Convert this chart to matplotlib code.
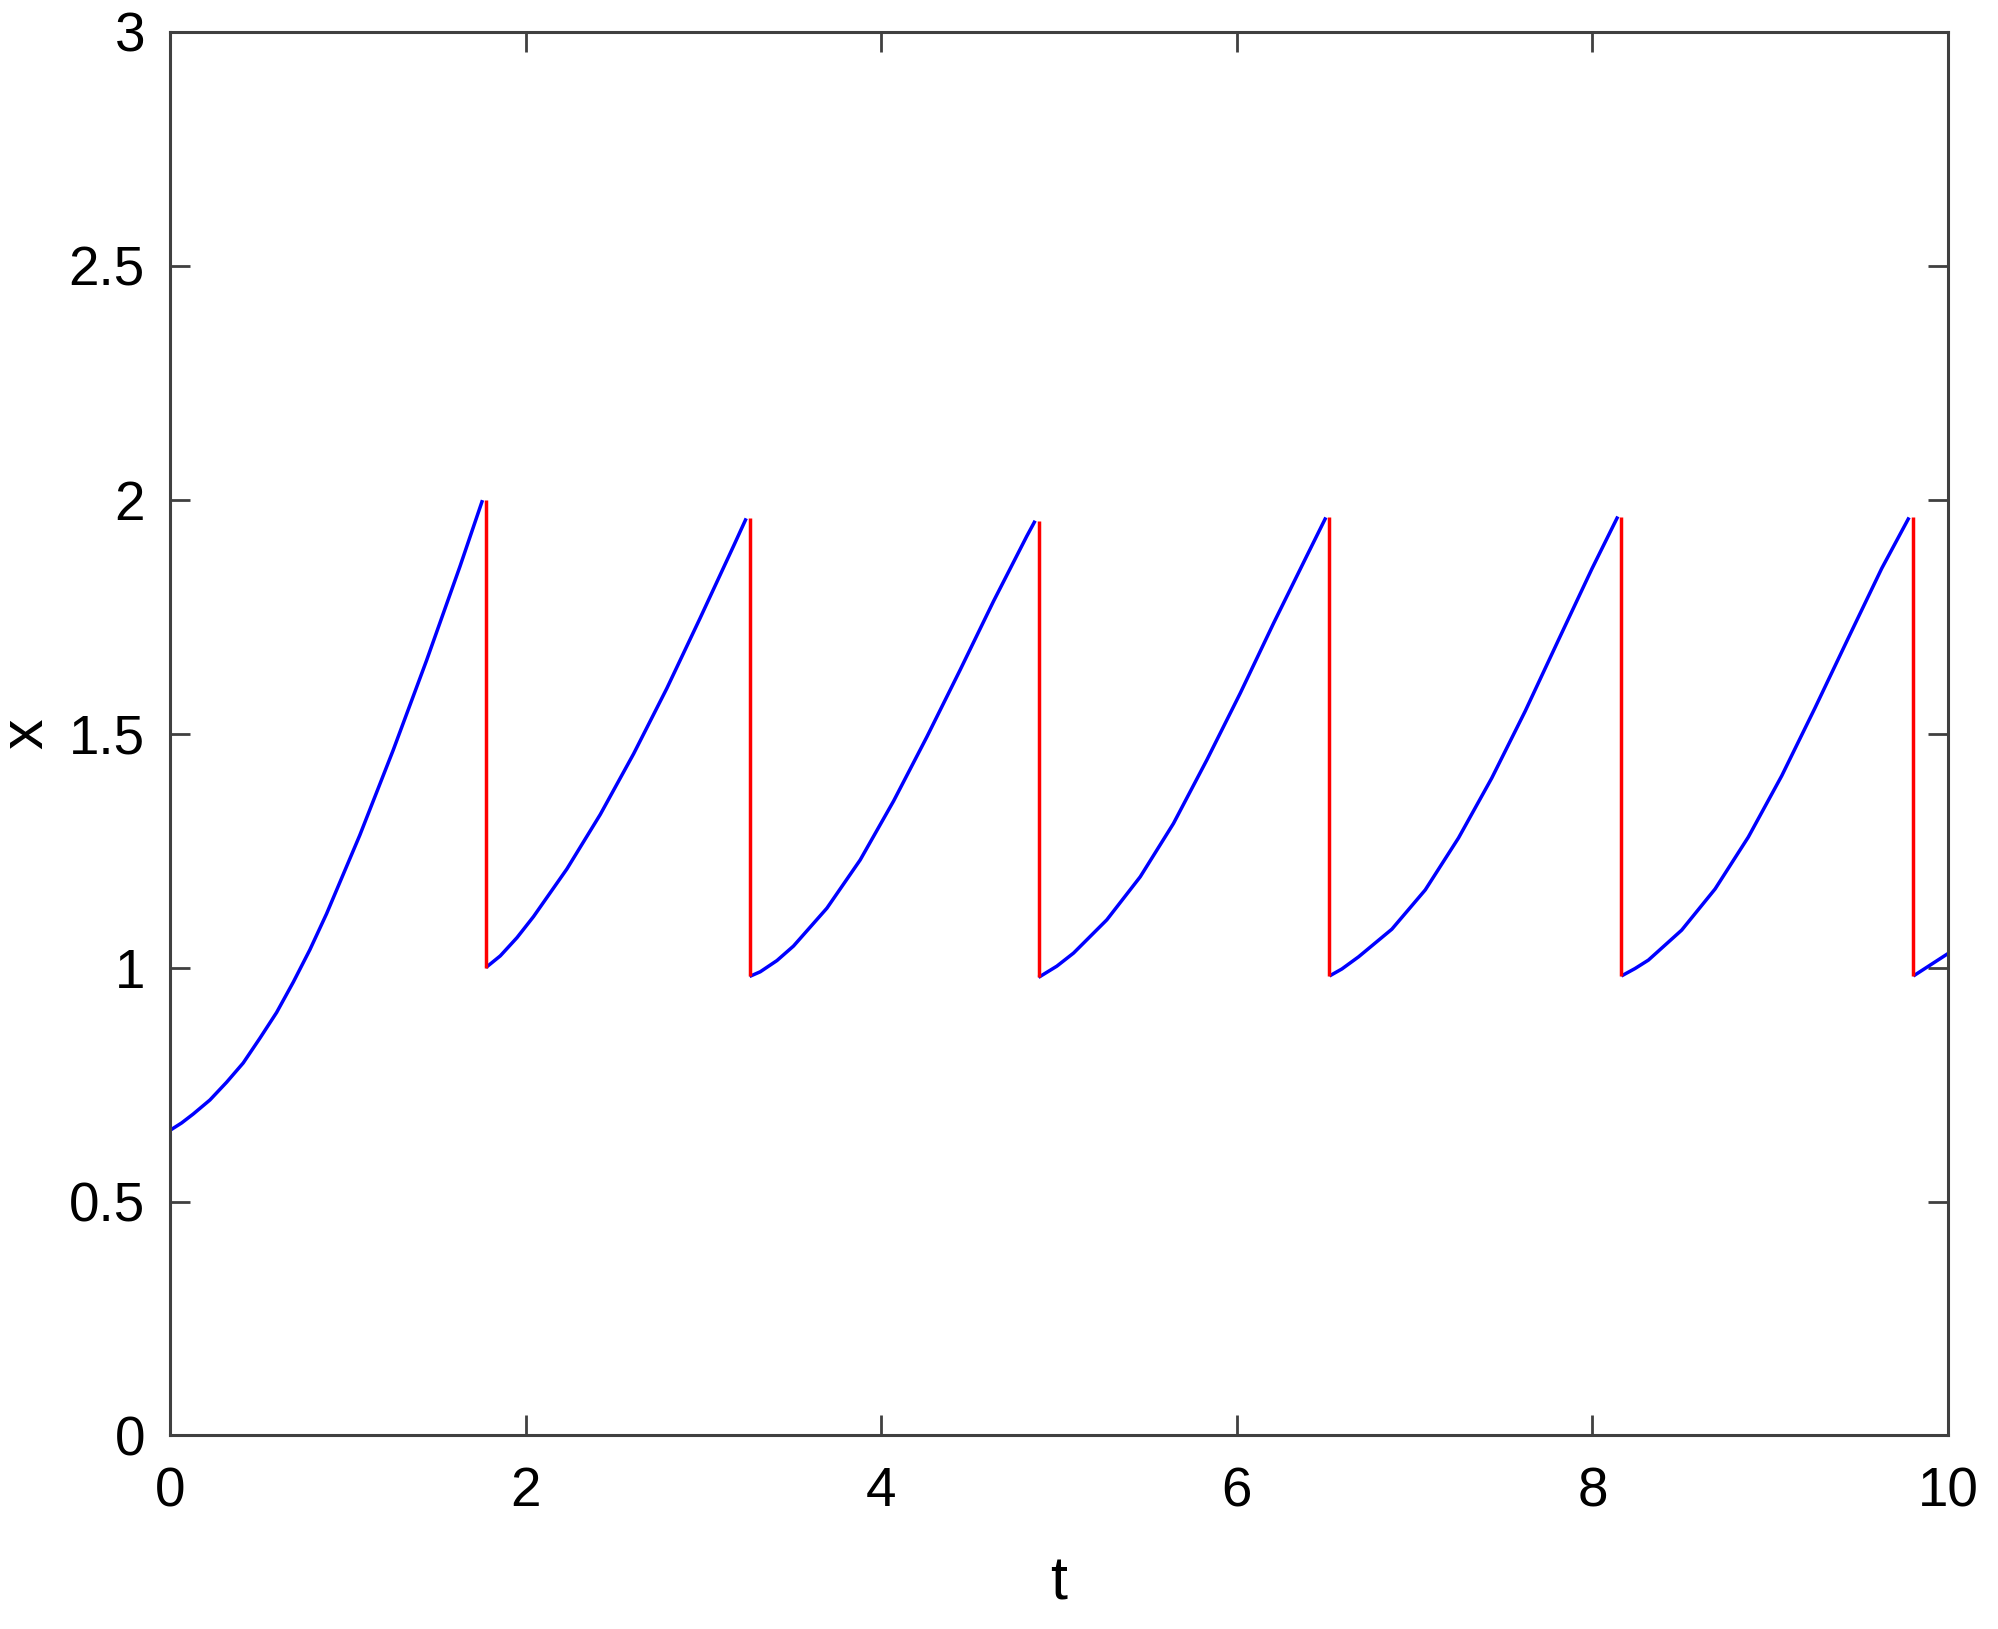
import matplotlib
matplotlib.use("Agg")
import matplotlib.pyplot as plt

plt.rcParams['font.family'] = ['Liberation Sans', 'DejaVu Sans']

# ---- data ----
seg1_t = [0.0, 0.066, 0.131, 0.225, 0.319, 0.412, 0.506, 0.600, 0.694, 0.787, 0.881, 1.068, 1.256, 1.443, 1.631, 1.758]
seg1_x = [0.652, 0.668, 0.687, 0.717, 0.755, 0.796, 0.849, 0.904, 0.969, 1.038, 1.115, 1.283, 1.465, 1.656, 1.857, 1.999]

seg2_t = [1.777, 1.858, 1.952, 2.045, 2.233, 2.420, 2.608, 2.795, 2.982, 3.170, 3.241]
seg2_x = [1.000, 1.025, 1.064, 1.109, 1.211, 1.327, 1.457, 1.597, 1.747, 1.901, 1.960]

seg3_t = [3.260, 3.320, 3.414, 3.507, 3.695, 3.882, 4.070, 4.257, 4.444, 4.632, 4.819, 4.866]
seg3_x = [0.981, 0.991, 1.015, 1.046, 1.127, 1.230, 1.356, 1.493, 1.636, 1.783, 1.922, 1.955]

seg4_t = [4.885, 4.988, 5.082, 5.269, 5.457, 5.644, 5.832, 6.019, 6.207, 6.394, 6.501]
seg4_x = [0.979, 1.003, 1.031, 1.102, 1.194, 1.308, 1.444, 1.586, 1.736, 1.880, 1.962]

seg5_t = [6.521, 6.591, 6.685, 6.872, 7.060, 7.247, 7.434, 7.622, 7.809, 7.997, 8.143]
seg5_x = [0.982, 0.997, 1.023, 1.082, 1.166, 1.277, 1.405, 1.548, 1.700, 1.852, 1.964]

seg6_t = [8.163, 8.240, 8.315, 8.502, 8.690, 8.877, 9.065, 9.252, 9.440, 9.627, 9.781]
seg6_x = [0.982, 0.998, 1.016, 1.080, 1.168, 1.279, 1.410, 1.555, 1.705, 1.853, 1.962]

seg7_t = [9.805, 10.0]
seg7_x = [0.982, 1.030]

jump_t = [1.777, 3.260, 4.885, 6.521, 8.160, 9.805]
jump_top = [2.000, 1.960, 1.955, 1.962, 1.964, 1.962]
jump_bottom = [1.000, 0.981, 0.979, 0.982, 0.982, 0.982]

x_ticks = [0, 2, 4, 6, 8, 10]
y_ticks = [0, 0.5, 1, 1.5, 2, 2.5, 3]
y_tick_labels = ['0', '0.5', '1', '1.5', '2', '2.5', '3']

# ---- figure ----
fig = plt.figure(figsize=(19.99, 16.29), dpi=100)
ax = fig.add_axes([0.0850, 0.1188, 0.8895, 0.8617])

segments = [(seg1_t, seg1_x), (seg2_t, seg2_x), (seg3_t, seg3_x), (seg4_t, seg4_x),
            (seg5_t, seg5_x), (seg6_t, seg6_x), (seg7_t, seg7_x)]
for ts, xs in segments:
    ax.plot(ts, xs, color=(0, 0, 1), lw=2.5, solid_capstyle='butt',
            solid_joinstyle='round')

ax.vlines(jump_t, jump_bottom, jump_top, colors=(1, 0, 0), lw=2.5)

ax.set_xlim(0, 10)
ax.set_ylim(0, 3)
ax.set_xticks(x_ticks)
ax.set_xticklabels([str(v) for v in x_ticks])
ax.set_yticks(y_ticks)
ax.set_yticklabels(y_tick_labels)

axis_col = '#404040'
for s in ax.spines.values():
    s.set_color(axis_col)
    s.set_linewidth(2.2)

ax.tick_params(axis='both', which='major', direction='in', length=14.5, width=2.0,
               color=axis_col, labelsize=39.5, labelcolor='black',
               top=True, right=True)
ax.tick_params(axis='x', pad=22)
ax.tick_params(axis='y', pad=18)

ax.set_xlabel('t', fontsize=44, va='baseline')
ax.xaxis.set_label_coords(0.5, -0.1172)
ax.set_ylabel('x', fontsize=44, va='baseline')
ax.yaxis.set_label_coords(-0.072, 0.5)

fig.savefig('out.png', dpi=100, facecolor='white')
